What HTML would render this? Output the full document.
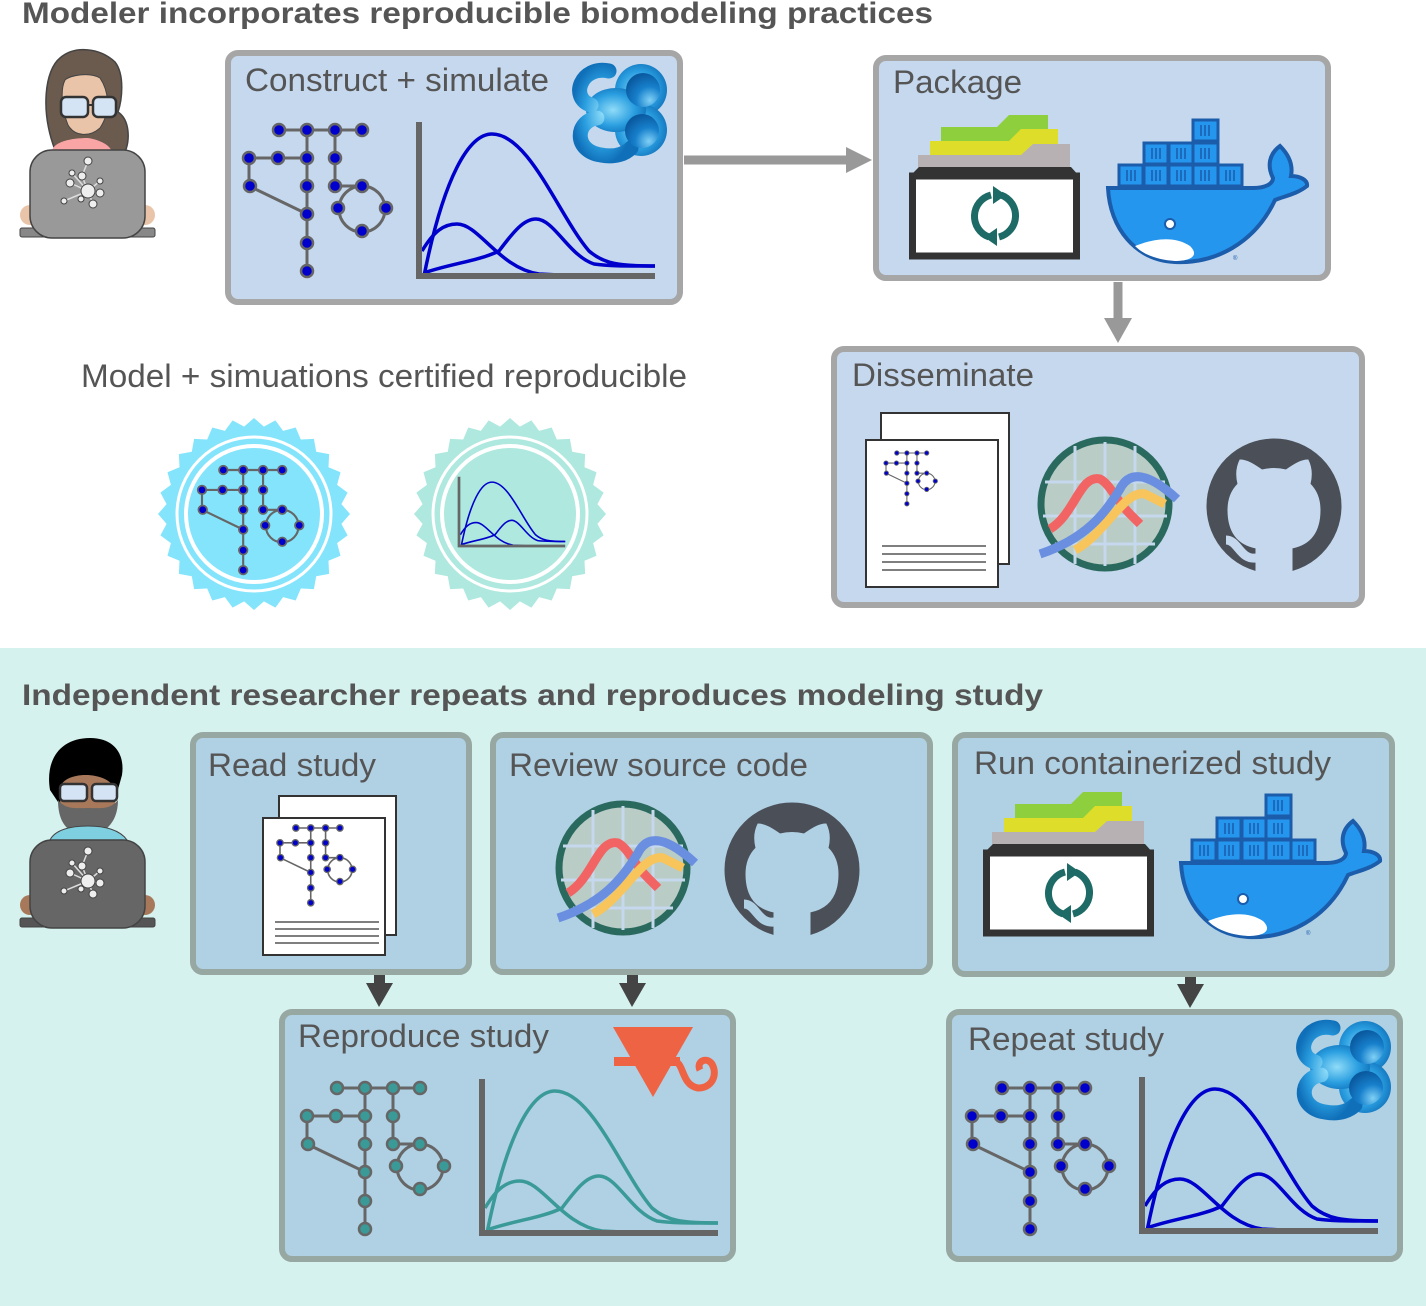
<!DOCTYPE html>
<html><head><meta charset="utf-8">
<style>
html,body{margin:0;padding:0;background:#fff;}
svg{display:block;font-family:"Liberation Sans",sans-serif;}
</style></head>
<body>
<svg id="s" width="1426" height="1306" viewBox="0 0 1426 1306" xmlns="http://www.w3.org/2000/svg">
<defs>
  <radialGradient id="sbg" cx="0.45" cy="0.5" r="0.6">
    <stop offset="0" stop-color="#8fdcf8"/><stop offset="0.6" stop-color="#2a9ee0"/><stop offset="1" stop-color="#0f6fb8"/>
  </radialGradient>
  <radialGradient id="sbd" cx="0.7" cy="0.8" r="0.8">
    <stop offset="0" stop-color="#7fd0f5"/><stop offset="0.5" stop-color="#1780cc"/><stop offset="1" stop-color="#0a5aa0"/>
  </radialGradient>
  <g id="net">
    <g stroke="#666" stroke-width="3" fill="none">
      <path d="M30,0H113 M58,0V141 M86,0V56H113 M0,28H58 M0,28V56L58,84"/>
      <circle cx="113" cy="79" r="23"/>
    </g>
    <g stroke="#666" stroke-width="2.5">
      <circle cx="30" cy="0" r="6"/><circle cx="58" cy="0" r="6"/><circle cx="86" cy="0" r="6"/><circle cx="113" cy="0" r="6"/>
      <circle cx="0" cy="28" r="6"/><circle cx="29" cy="28" r="6"/><circle cx="58" cy="28" r="6"/><circle cx="86" cy="28" r="6"/>
      <circle cx="1" cy="56" r="6"/><circle cx="58" cy="56" r="6"/><circle cx="86" cy="56" r="6"/><circle cx="113" cy="56" r="6"/>
      <circle cx="89" cy="78" r="6"/><circle cx="137" cy="78" r="6"/><circle cx="113" cy="101" r="6"/>
      <circle cx="58" cy="84" r="6"/><circle cx="58" cy="113" r="6"/><circle cx="58" cy="141" r="6"/>
    </g>
  </g>
  <g id="chart">
    <g fill="none" stroke-width="3.5">
      <path d="M5,0 C25,-100 50,-142 73,-142 C110,-142 140,-60 170,-25 C185,-12 200,-10 236,-10"/>
      <path d="M3,-25 C15,-45 25,-52 38,-52 C60,-52 80,-8 120,-2 L160,0"/>
      <path d="M5,-3 C30,-12 60,-15 80,-25 C95,-45 105,-57 117,-57 C135,-57 150,-20 175,-12 C190,-10 200,-10 236,-10"/>
    </g>
    <path d="M0,-154 V0 H236" fill="none" stroke="#666" stroke-width="6"/>
  </g>
  <g id="sbml">
    <g fill="url(#sbg)">
      <circle cx="70" cy="27" r="26"/><circle cx="70" cy="67" r="26"/>
      <ellipse cx="45" cy="47" rx="30" ry="22"/>
    </g>
    <path d="M38,8 C10,2 -2,35 20,42 M26,55 C4,58 2,88 30,92 C45,95 55,90 60,85" fill="none" stroke="url(#sbg)" stroke-width="15" stroke-linecap="round"/>
    <circle cx="72" cy="27" r="17" fill="url(#sbd)"/><circle cx="71" cy="68" r="17" fill="url(#sbd)"/>
  </g>
  <g id="filebox">
    <path d="M32,12 H88 L100,0 H139 V45 H32Z" fill="#8dcf3c"/>
    <path d="M21,26 H100 L112,14 H149 V50 H21Z" fill="#dede2a"/>
    <path d="M9,40 H112 L124,29 H161 V56 H9Z" fill="#b8b1b3"/>
    <path d="M0,62 L10,52 H162 L171,62Z" fill="#333"/>
    <rect x="3.5" y="61" width="164" height="80" fill="#fff" stroke="#333" stroke-width="7"/>
    <g fill="none" stroke="#1e6a66" stroke-width="7">
      <path d="M82,80 A22,22 0 0 0 80,122"/><path d="M90,122 A22,22 0 0 0 92,80"/>
    </g>
    <path d="M84,71 L97,80 L84,89Z M88,113 L75,122 L88,131Z" fill="#1e6a66"/>
  </g>
  <g id="whale">
    <path d="M3,70 H148 C160,70 168,66 168,60 C162,48 164,36 175,28 C185,38 188,48 186,58 C195,58 203,62 202,68 C192,76 180,78 170,82 C150,125 110,146 70,144 C30,142 5,110 3,70Z" fill="#2496ed" stroke="#1b5cab" stroke-width="4"/>
    <path d="M30,128 C50,120 70,118 85,128 C95,138 85,143 70,143 C55,142 40,138 30,128Z" fill="#fff"/>
    <circle cx="65" cy="106" r="5" fill="#fff" stroke="#1b5cab" stroke-width="2"/>
    <g fill="#2496ed" stroke="#1b5cab" stroke-width="3">
      <rect x="88" y="2" width="25" height="21"/>
      <rect x="39" y="25" width="24" height="21"/><rect x="64" y="25" width="24" height="21"/><rect x="88" y="25" width="25" height="21"/>
      <rect x="14" y="47" width="24" height="21"/><rect x="39" y="47" width="24" height="21"/><rect x="64" y="47" width="24" height="21"/><rect x="88" y="47" width="25" height="21"/><rect x="113" y="47" width="24" height="21"/>
    </g>
    <g stroke="#1b5cab" stroke-width="1.5">
      <path d="M96,7V18M100,7V18M104,7V18 M47,30V41M51,30V41M55,30V41 M72,30V41M76,30V41M80,30V41 M96,30V41M100,30V41M104,30V41 M22,52V63M26,52V63M30,52V63 M47,52V63M51,52V63M55,52V63 M72,52V63M76,52V63M80,52V63 M96,52V63M100,52V63M104,52V63 M121,52V63M125,52V63M129,52V63"/>
    </g>
    <text x="128" y="142" font-size="6" fill="#1b5cab">®</text>
  </g>
  <g id="biosim">
    <circle r="64" fill="#b9ccc5" stroke="#2a6a5e" stroke-width="7"/>
    <g stroke="#c5d8ee" stroke-width="3" fill="none">
      <path d="M-60,-22H60 M-62,12H62 M-50,40H50 M-30,-58V60 M0,-62V62 M30,-58V60"/>
    </g>
    <path d="M-55,25 C-30,10 -25,-30 -5,-25 C5,-20 10,-5 25,10 L35,20" fill="none" stroke="#f26464" stroke-width="9"/>
    <path d="M-30,46 C0,30 20,-15 40,-10 L60,0" fill="none" stroke="#f8c55c" stroke-width="9"/>
    <path d="M-65,50 C-20,35 0,10 15,-15 C25,-35 45,-30 72,-5" fill="none" stroke="#6a8fe0" stroke-width="9"/>
  </g>
  <g id="gh">
    <circle r="68" fill="#4a4f58"/>
    <path d="M-18,68 L-18,42 C-38,38 -46,24 -46,4 C-46,-8 -42,-16 -36,-22 C-38,-30 -38,-38 -34,-46 C-26,-46 -18,-40 -12,-36 C-4,-38 4,-38 12,-36 C18,-40 26,-46 34,-46 C38,-38 38,-30 36,-22 C42,-16 46,-8 46,4 C46,24 38,38 18,42 L18,68 Z"/>
    <path d="M-18,52 C-34,54 -36,34 -48,34" fill="none" stroke-width="9"/>
  </g>
  <g id="laptopnodes" stroke="#444" stroke-width="1" fill="#eee">
    <path d="M0,0 L-6,-15 M0,0 L-18,-8 M0,0 L-24,10 M0,0 L-16,-18 M0,0 L12,-10 M0,0 L12,2 M0,0 L5,13 M0,0 L-7,8 M-6,-15 L0,-30" stroke="#ddd" stroke-width="1.5"/>
    <circle r="7"/><circle cx="-6" cy="-15" r="4"/><circle cx="-18" cy="-8" r="4"/><circle cx="-24" cy="10" r="3"/><circle cx="-16" cy="-18" r="3"/><circle cx="12" cy="-10" r="3"/><circle cx="12" cy="2" r="4"/><circle cx="5" cy="13" r="4"/><circle cx="-7" cy="8" r="3"/><circle cx="0" cy="-30" r="4"/>
  </g>
</defs>
<style>.lbl{fill:#555;font-size:32px}</style>

<rect x="0" y="648" width="1426" height="658" fill="#d6f2ee"/>

<text x="22" y="23" font-size="30" font-weight="bold" fill="#555" textLength="911" lengthAdjust="spacingAndGlyphs">Modeler incorporates reproducible biomodeling practices</text>
<text x="22" y="705" font-size="30" font-weight="bold" fill="#555" textLength="1021" lengthAdjust="spacingAndGlyphs">Independent researcher repeats and reproduces modeling study</text>

<!-- woman -->
<g>
  <path d="M55,150 C40,110 45,70 60,58 C75,45 100,48 115,62 C125,75 122,100 118,112 C130,120 130,140 125,152Z" fill="#6b5a4e" stroke="#444" stroke-width="1.5"/>
  <path d="M65,80 C70,75 90,72 100,78 C108,90 112,110 100,128 C90,137 75,137 68,125 C62,110 60,90 65,80Z" fill="#e9c4a9" stroke="#444" stroke-width="1"/>
  <path d="M52,150 C55,142 70,138 88,138 C100,140 110,145 112,152Z" fill="#f9a5a5"/>
  <rect x="61" y="97" width="27" height="20" rx="5" fill="#d5e4f5" stroke="#333" stroke-width="2.5"/>
  <rect x="93" y="97" width="23" height="20" rx="5" fill="#d5e4f5" stroke="#333" stroke-width="2.5"/>
  <path d="M88,105H93" stroke="#333" stroke-width="2"/>
  <ellipse cx="30" cy="215" rx="10" ry="10" fill="#e9c4a9"/><ellipse cx="145" cy="215" rx="10" ry="10" fill="#e9c4a9"/>
  <rect x="20" y="228" width="135" height="9" rx="2" fill="#888" stroke="#444"/>
  <rect x="30" y="150" width="115" height="88" rx="22" fill="#999" stroke="#444" stroke-width="1.5"/>
  <use href="#laptopnodes" x="88" y="191"/>
</g>
<!-- man -->
<g>
  <path d="M50,790 C45,760 60,738 90,738 C115,738 125,755 122,775 C118,790 115,800 110,805 L60,805Z" fill="#000"/>
  <path d="M60,790 C60,770 110,770 115,790 C118,815 105,830 88,830 C70,830 58,815 60,790Z" fill="#a8785a"/>
  <path d="M58,800 C58,830 75,835 88,835 C102,835 118,825 118,800 C110,810 100,808 88,808 C76,808 66,810 58,800Z" fill="#666"/>
  <path d="M50,840 C55,830 70,826 88,826 C105,826 120,830 127,840Z" fill="#7ecfdf" stroke="#444"/>
  <rect x="60" y="784" width="27" height="17" rx="4" fill="#d5e4f5" stroke="#333" stroke-width="2.5"/>
  <rect x="92" y="784" width="25" height="17" rx="4" fill="#d5e4f5" stroke="#333" stroke-width="2.5"/>
  <ellipse cx="30" cy="905" rx="10" ry="10" fill="#a8785a"/><ellipse cx="145" cy="905" rx="10" ry="10" fill="#a8785a"/>
  <rect x="20" y="918" width="135" height="9" rx="2" fill="#555" stroke="#444"/>
  <rect x="30" y="840" width="115" height="88" rx="22" fill="#666" stroke="#444" stroke-width="1.5"/>
  <use href="#laptopnodes" x="88" y="881"/>
</g>

<!-- top boxes -->
<rect x="228" y="53" width="452" height="249" rx="10" fill="#c5d8ee" stroke="#a6a6a6" stroke-width="6"/>
<rect x="876" y="58" width="452" height="220" rx="10" fill="#c5d8ee" stroke="#a6a6a6" stroke-width="6"/>
<rect x="834" y="349" width="528" height="256" rx="10" fill="#c5d8ee" stroke="#a6a6a6" stroke-width="6"/>
<text x="245" y="91" class="lbl" textLength="304" lengthAdjust="spacingAndGlyphs">Construct + simulate</text>
<text x="893" y="93" class="lbl" textLength="129" lengthAdjust="spacingAndGlyphs">Package</text>
<text x="852" y="386" class="lbl" textLength="182" lengthAdjust="spacingAndGlyphs">Disseminate</text>
<text x="81" y="387" class="lbl" textLength="606" lengthAdjust="spacingAndGlyphs">Model + simuations certified reproducible</text>
<use href="#net" x="249" y="130" fill="#0000cc"/>
<use href="#chart" x="419" y="276" stroke="#0000cc"/>
<use href="#sbml" x="571" y="63"/>
<use href="#filebox" x="909" y="115"/>
<use href="#whale" x="1105" y="118"/>
<rect x="881" y="413" width="128" height="151" fill="#fff" stroke="#333" stroke-width="2"/>
<rect x="866" y="440" width="132" height="147" fill="#fff" stroke="#333" stroke-width="2"/>
<path d="M882,546H986M882,554H986M882,562H986M882,570H986" stroke="#333" stroke-width="1.2"/>
<use href="#net" transform="translate(886,453) scale(0.36)" fill="#0000cc"/>
<use href="#biosim" x="1105" y="504"/>
<use href="#gh" x="1274" y="506" fill="#c5d8ee" stroke="#c5d8ee"/>
<!-- badges -->
<polygon id="seal1" fill="#84e4fc"/>
<circle cx="254" cy="514" r="77" fill="none" stroke="#fff" stroke-width="3"/>
<circle cx="254" cy="514" r="68" fill="#84e4fc" stroke="#fff" stroke-width="4"/>
<use href="#net" transform="translate(202,470) scale(0.71)" fill="#0000cc"/>
<polygon id="seal2" fill="#aee8de"/>
<circle cx="510" cy="514" r="77" fill="none" stroke="#fff" stroke-width="3"/>
<circle cx="510" cy="514" r="68" fill="#aee8de" stroke="#fff" stroke-width="4"/>
<use href="#chart" transform="translate(459,546) scale(0.45)" stroke="#0000cc"/>
<!-- arrows -->
<path d="M684,160H850" stroke="#999" stroke-width="9"/>
<path d="M846,147L872,160L846,173Z" fill="#999"/>
<path d="M1118,282V320" stroke="#999" stroke-width="9"/>
<path d="M1104,318L1118,343L1132,318Z" fill="#999"/>

<!-- bottom boxes -->
<g fill="#b0d0e4" stroke="#97a8a3" stroke-width="6">
  <rect x="193" y="735" width="276" height="237" rx="10"/>
  <rect x="493" y="735" width="437" height="237" rx="10"/>
  <rect x="955" y="735" width="437" height="239" rx="10"/>
  <rect x="282" y="1012" width="451" height="247" rx="10"/>
  <rect x="949" y="1012" width="451" height="247" rx="10"/>
</g>
<text x="208" y="776" class="lbl" textLength="168" lengthAdjust="spacingAndGlyphs">Read study</text>
<text x="509" y="776" class="lbl" textLength="299" lengthAdjust="spacingAndGlyphs">Review source code</text>
<text x="974" y="774" class="lbl" textLength="357" lengthAdjust="spacingAndGlyphs">Run containerized study</text>
<text x="298" y="1047" class="lbl" textLength="251" lengthAdjust="spacingAndGlyphs">Reproduce study</text>
<text x="968" y="1050" class="lbl" textLength="196" lengthAdjust="spacingAndGlyphs">Repeat study</text>
<rect x="279" y="796" width="117" height="139" fill="#fff" stroke="#333" stroke-width="2"/>
<rect x="263" y="818" width="122" height="137" fill="#fff" stroke="#333" stroke-width="2"/>
<path d="M275,922H379M275,929H379M275,936H379M275,943H379" stroke="#333" stroke-width="1.2"/>
<use href="#net" transform="translate(280,828) scale(0.53)" fill="#0000cc"/>
<use href="#biosim" x="623" y="868"/>
<use href="#gh" x="792" y="870" fill="#b0d0e4" stroke="#b0d0e4"/>
<use href="#filebox" x="983" y="792"/>
<use href="#whale" x="1178" y="793"/>
<use href="#net" x="307" y="1088" fill="#3a9a98"/>
<use href="#chart" x="482" y="1233" stroke="#3a9a98"/>
<use href="#net" x="972" y="1088" fill="#0000cc"/>
<use href="#chart" x="1142" y="1231" stroke="#0000cc"/>
<use href="#sbml" x="1295" y="1020"/>
<!-- red icon -->
<path d="M613,1027H693L653,1097Z" fill="#ee6344"/>
<path d="M614,1057H680V1066H614Z" fill="#ee6344"/>
<path d="M672,1061 C685,1060 680,1085 698,1088 C712,1088 718,1075 712,1064 C706,1056 696,1062 700,1070" fill="none" stroke="#ee6344" stroke-width="7"/>
<!-- arrows -->
<g fill="#444">
  <rect x="374" y="975" width="11" height="12"/><path d="M366,983H393L379,1007Z"/>
  <rect x="627" y="975" width="11" height="12"/><path d="M619,983H646L632,1007Z"/>
  <rect x="1185" y="977" width="11" height="12"/><path d="M1177,984H1204L1190,1008Z"/>
</g>
<script>
function seal(id,cx,cy){var p=[],n=28;for(var i=0;i<2*n;i++){var r=i%2?88:96,a=Math.PI*i/n;p.push((cx+r*Math.cos(a)).toFixed(1)+','+(cy+r*Math.sin(a)).toFixed(1));}document.getElementById(id).setAttribute('points',p.join(' '));}
seal('seal1',254,514);seal('seal2',510,514);
</script>
</svg>
</body></html>
